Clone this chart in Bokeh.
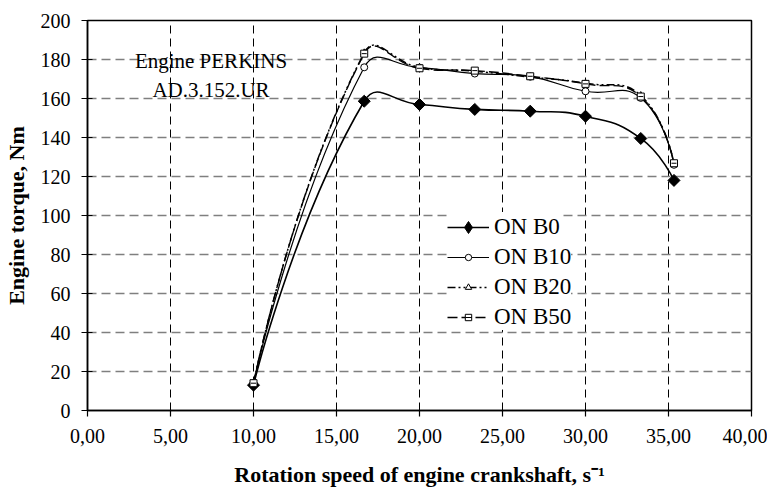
import numpy as np
from bokeh.plotting import figure
from bokeh.models import FixedTicker, Legend, LegendItem, Label
from bokeh.embed import file_html
from bokeh.resources import INLINE

# ---- data ----
speed = [10.00, 16.67, 20.00, 23.33, 26.67, 30.00, 33.33, 35.33]
on_b0 = [13.0, 158.6, 156.9, 154.4, 153.5, 150.9, 139.5, 118.0]
on_b10 = [14.0, 176.0, 175.8, 172.8, 171.2, 163.7, 160.3, 126.0]
on_b20 = [14.0, 183.4, 176.0, 174.0, 171.0, 167.8, 161.5, 126.5]
on_b50 = [14.0, 183.0, 175.5, 174.3, 171.4, 167.5, 161.0, 126.8]
series_names = ["ON B0", "ON B10", "ON B20", "ON B50"]
x_ticks = [0, 5, 10, 15, 20, 25, 30, 35, 40]
x_tick_labels = ["0,00", "5,00", "10,00", "15,00", "20,00", "25,00", "30,00", "35,00", "40,00"]
y_ticks = [0, 20, 40, 60, 80, 100, 120, 140, 160, 180, 200]

FONT = "Liberation Serif"
FW, FH = 664, 390
X0, X1, Y0, Y1 = 0, 40, 0, 200

p = figure(frame_width=FW, frame_height=FH, x_range=(X0, X1), y_range=(Y0, Y1),
           output_backend="svg", toolbar_location=None,
           min_border_left=86, min_border_right=16, min_border_top=20, min_border_bottom=76,
           background_fill_color="white", border_fill_color="white")
p.outline_line_color = "black"
p.outline_line_width = 1.5

# axes
p.xaxis.ticker = FixedTicker(ticks=x_ticks)
p.xaxis.major_label_overrides = {t: l for t, l in zip(x_ticks, x_tick_labels)}
p.yaxis.ticker = FixedTicker(ticks=y_ticks)
for ax in (p.xaxis, p.yaxis):
    ax.axis_line_color = "black"
    ax.axis_line_width = 1.5
    ax.major_tick_line_color = "black"
    ax.major_tick_line_width = 1.2
    ax.minor_tick_line_color = None
    ax.major_label_text_font = FONT
    ax.major_label_text_font_size = "20px"
    ax.major_label_text_color = "black"
    ax.axis_label_text_font = FONT
    ax.axis_label_text_font_size = "22px"
    ax.axis_label_text_font_style = "bold"
    ax.axis_label_text_color = "black"
p.xaxis.major_tick_out = 6
p.xaxis.major_tick_in = 0
p.yaxis.major_tick_out = 6
p.yaxis.major_tick_in = 5
p.xaxis.major_label_standoff = 12
p.yaxis.major_label_standoff = 11
p.xaxis.axis_label = "Rotation speed of engine crankshaft, s\u207b\u00b9"
p.yaxis.axis_label = "Engine torque, Nm"
p.xaxis.axis_label_standoff = 16
p.yaxis.axis_label_standoff = 9

# grids
p.xgrid.grid_line_color = "black"
p.xgrid.grid_line_width = 1
p.xgrid.grid_line_dash = "8 5"
p.ygrid.grid_line_color = "#7f7f7f"
p.ygrid.grid_line_width = 1.5
p.ygrid.grid_line_dash = "9 5"

# smoothed curves (Bezier segments through the data points)
sx = FW / (X1 - X0)
sy = FH / (Y1 - Y0)


def bezier_data(xs, ys, t=0.5):
    xs = np.asarray(xs, float)
    ys = np.asarray(ys, float)
    n = len(xs)
    cl = np.zeros((n, 2))
    cr = np.zeros((n, 2))
    cl[0] = cr[0] = (xs[0], ys[0])
    cl[-1] = cr[-1] = (xs[-1], ys[-1])
    for i in range(1, n - 1):
        d01 = np.hypot((xs[i] - xs[i - 1]) * sx, (ys[i] - ys[i - 1]) * sy)
        d12 = np.hypot((xs[i + 1] - xs[i]) * sx, (ys[i + 1] - ys[i]) * sy)
        fa = t * d01 / (d01 + d12)
        fb = t * d12 / (d01 + d12)
        tx = xs[i + 1] - xs[i - 1]
        ty = ys[i + 1] - ys[i - 1]
        cl[i] = (xs[i] - fa * tx, ys[i] - fa * ty)
        cr[i] = (xs[i] + fb * tx, ys[i] + fb * ty)
    return dict(x0=xs[:-1], y0=ys[:-1], x1=xs[1:], y1=ys[1:],
                cx0=cr[:-1, 0], cy0=cr[:-1, 1], cx1=cl[1:, 0], cy1=cl[1:, 1])


styles = [
    dict(dash="solid", width=1.6),
    dict(dash="solid", width=1.2),
    dict(dash="8 3 2 3 2 3", width=1.5),
    dict(dash="10 4", width=1.4),
]
all_y = [on_b0, on_b10, on_b20, on_b50]
items = []
for name, ys, st in zip(series_names, all_y, styles):
    bz = p.bezier(source=bezier_data(speed, ys), x0="x0", y0="y0", x1="x1", y1="y1",
                  cx0="cx0", cy0="cy0", cx1="cx1", cy1="cy1",
                  line_color="black", line_width=st["width"], line_dash=st["dash"])
    items.append([bz])

# legend symbol for B0 (legend markers are drawn unrotated); hidden under the plot markers
m0_leg = p.scatter(speed, on_b0, marker="diamond", size=6, fill_color="black", line_color="black")
m0 = p.scatter(speed, on_b0, marker="square", angle=np.pi / 4, size=8.5,
               fill_color="black", line_color="black")
m1 = p.scatter(speed, on_b10, marker="circle", size=7, fill_color="white",
               line_color="black", line_width=1)
m2 = p.scatter(speed, on_b20, marker="triangle", size=7, fill_color="white",
               line_color="black", line_width=1)
m3 = p.scatter(speed, on_b50, marker="square", size=7, fill_color="white",
               line_color="black", line_width=1)
m3b = p.scatter(speed, on_b50, marker="dash", size=5, line_color="black", line_width=1)
items[0].append(m0_leg)
items[1].append(m1)
items[2].append(m2)
items[3] += [m3, m3b]


def make_legend(names, rends, loc, glyph_h, spacing):
    lg = Legend(items=[LegendItem(label=n, renderers=r) for n, r in zip(names, rends)],
                location=loc, orientation="vertical")
    lg.label_text_font = FONT
    lg.label_text_font_size = "23px"
    lg.label_text_color = "black"
    lg.glyph_width = 42
    lg.glyph_height = glyph_h
    lg.label_height = 24
    lg.label_standoff = 5
    lg.spacing = spacing
    lg.padding = 8
    lg.margin = 0
    lg.border_line_color = None
    lg.background_fill_color = "white"
    lg.background_fill_alpha = 1.0
    return lg


legend_a = make_legend(series_names[:1], items[:1], (360, 168), 30, 0)
legend_b = make_legend(series_names[1:], items[1:], (360, 80), 16, 4)
p.add_layout(legend_a, "center")
p.add_layout(legend_b, "center")

# annotation
for txt, yy in (("Engine PERKINS", 179), ("AD.3.152.UR", 164.4)):
    p.add_layout(Label(x=7.44, y=yy, text=txt, text_align="center", text_baseline="middle",
                       text_font=FONT, text_font_size="21px", text_color="black"))

open("out.html", "w").write(file_html(p, INLINE))
